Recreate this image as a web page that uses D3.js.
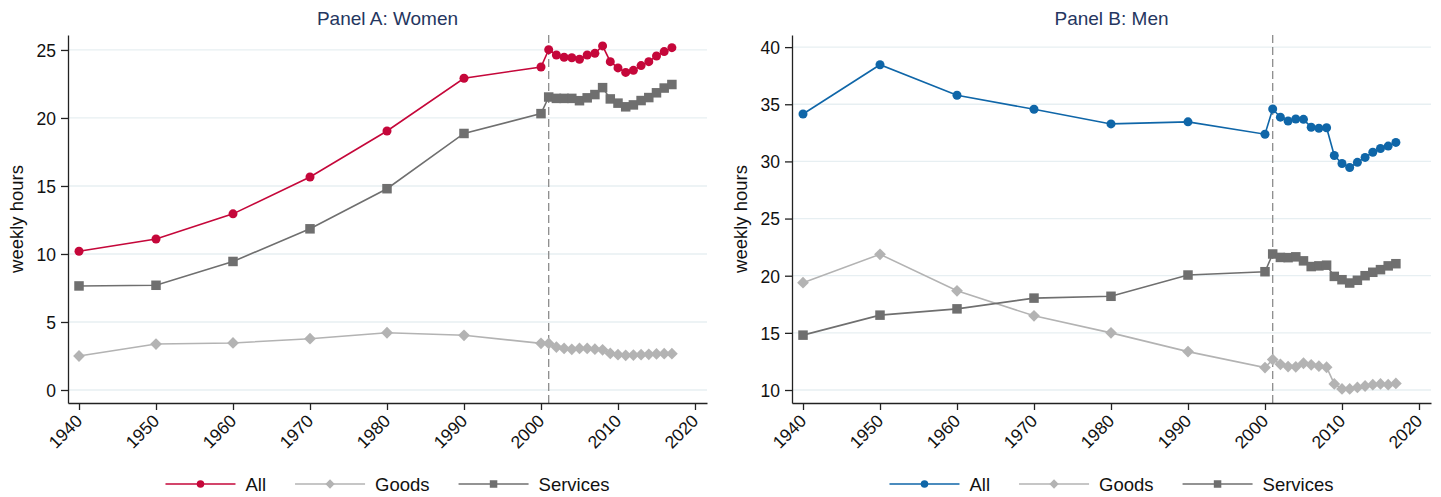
<!DOCTYPE html>
<html>
<head>
<meta charset="utf-8">
<script src="https://cdn.jsdelivr.net/npm/d3@7/dist/d3.min.js"></script>
<style>
  body { margin: 0; background: #fff; }
  svg { font-family: "Liberation Sans", Arial, sans-serif; }
  .axis path, .axis line { stroke: #222; stroke-width: 1.3px; }
  .grid line { stroke: #e7eff2; stroke-width: 1.3px; }
</style>
</head>
<body>
<svg id="chart" width="1441" height="497"></svg>
<script>
// years: decennial census 1940-2000, then yearly 2001-2017
var years = [1940, 1950, 1960, 1970, 1980, 1990, 2000,
    2001, 2002, 2003, 2004, 2005, 2006, 2007, 2008, 2009,
    2010, 2011, 2012, 2013, 2014, 2015, 2016, 2017];

var womenAll = [10.2, 11.1, 12.95, 15.66, 19.04, 22.92, 23.75,
    25.02, 24.63, 24.46, 24.43, 24.32, 24.63, 24.75, 25.3, 24.14,
    23.68, 23.35, 23.5, 23.85, 24.14, 24.56, 24.88, 25.17];
var womenGoods = [2.5, 3.38, 3.46, 3.77, 4.21, 4.02, 3.43,
    3.42, 3.16, 3.06, 2.99, 3.06, 3.06, 3.0, 2.95, 2.69,
    2.6, 2.55, 2.57, 2.6, 2.62, 2.65, 2.67, 2.67];
var womenServices = [7.65, 7.7, 9.45, 11.85, 14.8, 18.86, 20.32,
    21.54, 21.44, 21.44, 21.44, 21.27, 21.48, 21.72, 22.23, 21.4,
    21.09, 20.82, 20.96, 21.28, 21.5, 21.85, 22.2, 22.46];

var menAll = [34.15, 38.46, 35.79, 34.56, 33.28, 33.46, 32.38,
    34.59, 33.87, 33.54, 33.71, 33.68, 32.99, 32.9, 32.95, 30.52,
    29.82, 29.47, 29.92, 30.35, 30.8, 31.13, 31.34, 31.66];
var menGoods = [19.39, 21.87, 18.68, 16.49, 15.0, 13.36, 11.96,
    12.66, 12.25, 12.05, 12.03, 12.34, 12.2, 12.08, 11.99, 10.53,
    10.09, 10.09, 10.23, 10.35, 10.47, 10.53, 10.47, 10.58];
var menServices = [14.8, 16.55, 17.1, 18.04, 18.2, 20.06, 20.35,
    21.9, 21.6, 21.58, 21.65, 21.3, 20.8, 20.86, 20.92, 19.94,
    19.65, 19.36, 19.6, 20.0, 20.3, 20.53, 20.86, 21.05];

var xTicks = [1940, 1950, 1960, 1970, 1980, 1990, 2000, 2010, 2020];
var womenTicks = [0, 5, 10, 15, 20, 25];
var menTicks = [10, 15, 20, 25, 30, 35, 40];
var seriesNames = ["All", "Goods", "Services"];
var breakYear = 2001;

var svg = d3.select("#chart");
var plotTop = 35, plotBottom = 403;

var panels = [
    {title: "Panel A: Women", left: 68, right: 707, yDomain: [-0.956, 26.1],
     ticks: womenTicks, data: [womenAll, womenGoods, womenServices], allColor: "#c5073a"},
    {title: "Panel B: Men", left: 792, right: 1431, yDomain: [8.863, 41.06],
     ticks: menTicks, data: [menAll, menGoods, menServices], allColor: "#0f66a8"}
];

var markers = ["circle", "diamond", "square"];

// draw one marker of the given shape centred on (cx, cy)
function drawMarker(g, shape, cx, cy, size, color) {
    if (shape === "circle") {
        g.append("circle").attr("cx", cx).attr("cy", cy).attr("r", size / 2)
            .attr("fill", color);
    } else if (shape === "square") {
        g.append("rect").attr("x", cx - size / 2).attr("y", cy - size / 2)
            .attr("width", size).attr("height", size).attr("fill", color);
    } else {
        var h = size * 0.62;
        g.append("path")
            .attr("d", "M" + cx + "," + (cy - h) + "L" + (cx + h) + "," + cy +
                "L" + cx + "," + (cy + h) + "L" + (cx - h) + "," + cy + "Z")
            .attr("fill", color);
    }
}

panels.forEach(function(p) {
    var colors = [p.allColor, "#b3b3b3", "#6f6f6f"];

    var x = d3.scaleLinear().domain([1938.57, 2021.56]).range([p.left, p.right]);
    var y = d3.scaleLinear().domain(p.yDomain).range([plotBottom, plotTop]);

    var g = svg.append("g");

    // gridlines
    g.append("g").attr("class", "grid")
        .selectAll("line")
        .data(p.ticks)
        .enter().append("line")
        .attr("x1", p.left).attr("x2", p.right)
        .attr("y1", function(d) { return y(d); })
        .attr("y2", function(d) { return y(d); });

    // dashed line at the start of the yearly data
    g.append("line")
        .attr("x1", x(breakYear)).attr("x2", x(breakYear))
        .attr("y1", plotTop).attr("y2", plotBottom)
        .attr("stroke", "#8c8c8c").attr("stroke-width", 1.3)
        .attr("stroke-dasharray", "8,4");

    // series lines and markers
    var line = d3.line()
        .x(function(d, i) { return x(years[i]); })
        .y(function(d) { return y(d); });

    p.data.forEach(function(values, s) {
        g.append("path")
            .attr("d", line(values))
            .attr("fill", "none")
            .attr("stroke", colors[s])
            .attr("stroke-width", 1.6);
        var mg = g.append("g");
        values.forEach(function(v, i) {
            drawMarker(mg, markers[s], x(years[i]), y(v), s === 0 ? 9 : 9.5, colors[s]);
        });
    });

    // y axis
    g.append("g")
        .attr("class", "axis")
        .attr("transform", "translate(" + p.left + ",0)")
        .call(d3.axisLeft(y).tickValues(p.ticks).tickSize(7).tickSizeOuter(0).tickPadding(5))
        .selectAll("text")
        .attr("dy", "0.36em")
        .style("font-size", "17.5px")
        .style("fill", "#111");

    // x axis
    g.append("g")
        .attr("class", "axis")
        .attr("transform", "translate(0," + plotBottom + ")")
        .call(d3.axisBottom(x).tickValues(xTicks).tickFormat(d3.format("d"))
            .tickSize(7).tickSizeOuter(0))
        .selectAll("text")
        .attr("x", 0).attr("y", 0).attr("dy", 0)
        .style("text-anchor", "end")
        .style("font-size", "17.5px")
        .style("fill", "#111")
        .attr("transform", "translate(4,19) rotate(-45)");

    // title
    g.append("text")
        .attr("x", (p.left + p.right) / 2)
        .attr("y", 25)
        .attr("text-anchor", "middle")
        .style("font-size", "19px")
        .style("fill", "#253660")
        .text(p.title);

    // y axis label
    g.append("text")
        .attr("transform", "translate(" + (p.left - 45) + "," + ((plotTop + plotBottom) / 2) + ") rotate(-90)")
        .attr("text-anchor", "middle")
        .style("font-size", "18.5px")
        .style("fill", "#111")
        .text("weekly hours");

    // legend, centred under the plot
    var legend = g.append("g");
    var lx = 0;
    seriesNames.forEach(function(name, s) {
        var item = legend.append("g").attr("transform", "translate(" + lx + ",0)");
        item.append("line").attr("x1", 0).attr("x2", 70).attr("y1", 0).attr("y2", 0)
            .attr("stroke", colors[s]).attr("stroke-width", 1.6);
        drawMarker(item, markers[s], 35, 0, 7.5, colors[s]);
        var t = item.append("text").attr("x", 80).attr("y", 0).attr("dy", "0.36em")
            .style("font-size", "18.5px").style("fill", "#111").text(name);
        lx += 80 + t.node().getComputedTextLength() + 29;
    });
    var legendWidth = lx - 29;
    legend.attr("transform", "translate(" + ((p.left + p.right) / 2 - legendWidth / 2) + ",484)");
});
</script>
</body>
</html>
